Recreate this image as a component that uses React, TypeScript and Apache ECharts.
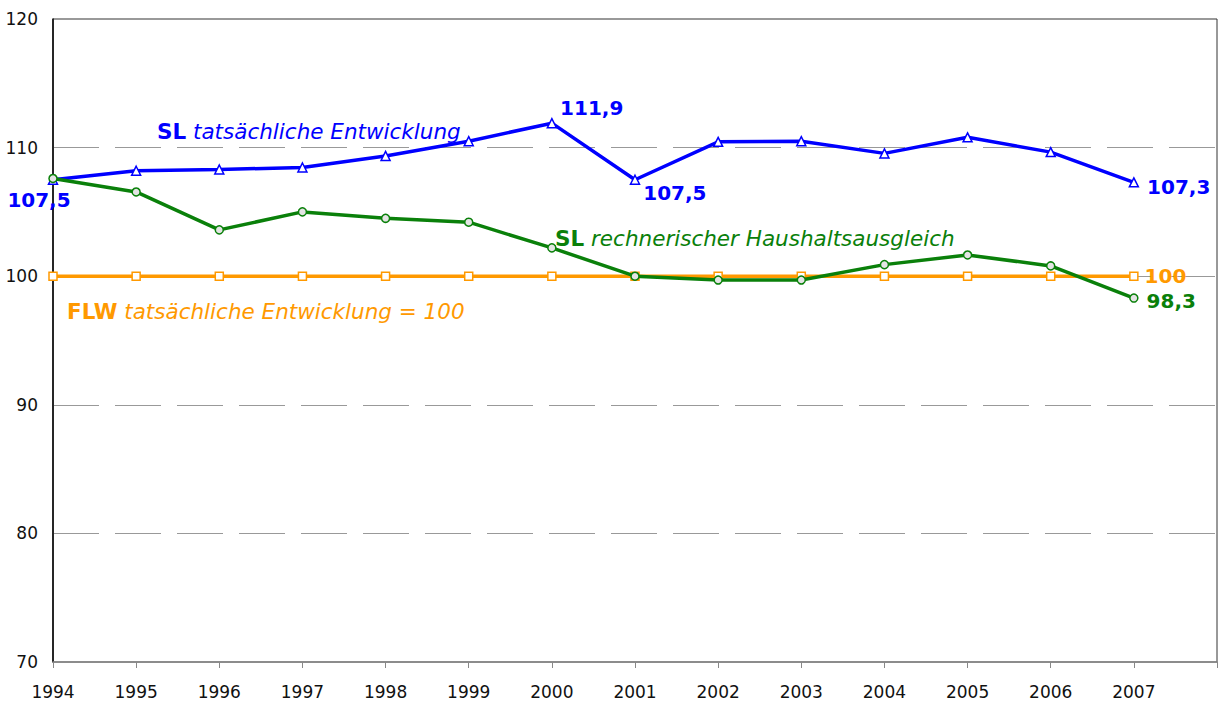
import React, { useEffect, useRef } from "react";
import * as echarts from "echarts";

const years = [1994, 1995, 1996, 1997, 1998, 1999, 2000, 2001, 2002, 2003, 2004, 2005, 2006, 2007];
const slActual = [107.5, 108.2, 108.3, 108.45, 109.35, 110.5, 111.9, 107.5, 110.45, 110.5, 109.55, 110.8, 109.65, 107.3];
const slComputed = [107.6, 106.55, 103.6, 105.0, 104.5, 104.2, 102.2, 100.0, 99.7, 99.7, 100.9, 101.65, 100.8, 98.3];
const flwActual = [100, 100, 100, 100, 100, 100, 100, 100, 100, 100, 100, 100, 100, 100];
const yTicks = [70, 80, 90, 100, 110, 120];

const FONT = "DejaVu Sans";
const BLUE = "#0000FF";
const GREEN = "#0A800A";
const ORANGE = "#FF9900";
const ANN = 21.5;

function build(values: number[], labels: Record<number, any>, color: string, text?: (v: number) => string) {
  return values.map((v, i) => {
    const item: any = { value: [years[i], v] };
    if (labels[i]) {
      item.label = {
        show: true,
        color,
        fontFamily: FONT,
        fontWeight: "bold",
        fontSize: 20,
        formatter: () => (text ? text(v) : v.toFixed(1).replace(".", ",")),
        ...labels[i],
      };
    }
    return item;
  });
}

function ann(x: number, y: number, bold: string, italic: string, color: string) {
  return {
    type: "text",
    x,
    y,
    z: 10,
    style: {
      text: `{b|${bold}} {i|${italic}}`,
      fill: color,
      fontFamily: FONT,
      fontSize: ANN,
      verticalAlign: "middle",
      rich: {
        b: { fontWeight: "bold", fill: color, fontFamily: FONT, fontSize: ANN },
        i: { fontStyle: "italic", fill: color, fontFamily: FONT, fontSize: ANN },
      },
    },
  };
}

export default function App() {
  const ref = useRef<HTMLDivElement>(null);
  useEffect(() => {
    if (!ref.current) return;
    const chart = echarts.init(ref.current, undefined, { renderer: "svg" });
    chart.setOption({
      animation: false,
      backgroundColor: "#fff",
      grid: { left: 53, right: 2, top: 19, bottom: 45, show: true, borderColor: "#333", borderWidth: 1 },
      xAxis: {
        type: "value",
        min: 1994,
        max: 2008,
        interval: 1,
        axisLine: { show: true, lineStyle: { color: "#888", width: 1.5 } },
        axisTick: { show: true, length: 6, lineStyle: { color: "#888" } },
        splitLine: { show: false },
        axisLabel: {
          margin: 21,
          color: "#111",
          fontFamily: FONT,
          fontSize: 17,
          formatter: (v: number) => (v >= 2008 ? "" : String(v)),
        },
      },
      yAxis: {
        type: "value",
        min: yTicks[0],
        max: yTicks[yTicks.length - 1],
        interval: 10,
        axisLine: { show: true, lineStyle: { color: "#000", width: 1.5 } },
        axisTick: { show: false },
        axisLabel: { margin: 15, color: "#111", fontFamily: FONT, fontSize: 17 },
        splitLine: { show: true, lineStyle: { color: "#999", type: [46, 16], width: 1 } },
      },
      series: [
        {
          type: "line",
          name: "SL tatsächliche Entwicklung",
          data: build(
            slActual,
            {
              0: { position: "bottom", offset: [-14, 0] },
              6: { position: "right", offset: [-2, -15] },
              7: { position: "right", offset: [-2, 13] },
              13: { position: "right", offset: [3, 5] },
            },
            BLUE
          ),
          symbol: "triangle",
          symbolSize: 9,
          lineStyle: { color: BLUE, width: 3.5 },
          itemStyle: { color: "#fff", borderColor: BLUE, borderWidth: 1.5 },
          z: 2,
        },
        {
          type: "line",
          name: "FLW tatsächliche Entwicklung = 100",
          data: build(flwActual, { 13: { position: "right", offset: [1, 0] } }, ORANGE, (v) => String(v)),
          symbol: "rect",
          symbolSize: 8,
          lineStyle: { color: ORANGE, width: 3.5 },
          itemStyle: { color: "#fff", borderColor: ORANGE, borderWidth: 1.5 },
          z: 3,
        },
        {
          type: "line",
          name: "SL rechnerischer Haushaltsausgleich",
          data: build(slComputed, { 13: { position: "right", offset: [3, 3] } }, GREEN),
          symbol: "circle",
          symbolSize: 8,
          lineStyle: { color: GREEN, width: 3.5 },
          itemStyle: { color: "#e4e4e4", borderColor: GREEN, borderWidth: 1.5 },
          z: 4,
        },
      ],
      graphic: [
        ann(157, 131, "SL", "tatsächliche Entwicklung", BLUE),
        ann(555, 238, "SL", "rechnerischer Haushaltsausgleich", GREEN),
        ann(67, 311, "FLW", "tatsächliche Entwicklung = 100", ORANGE),
      ],
    });
    return () => chart.dispose();
  }, []);
  return <div ref={ref} style={{ position: "fixed", left: 0, top: 0, width: 1220, height: 707 }} />;
}
